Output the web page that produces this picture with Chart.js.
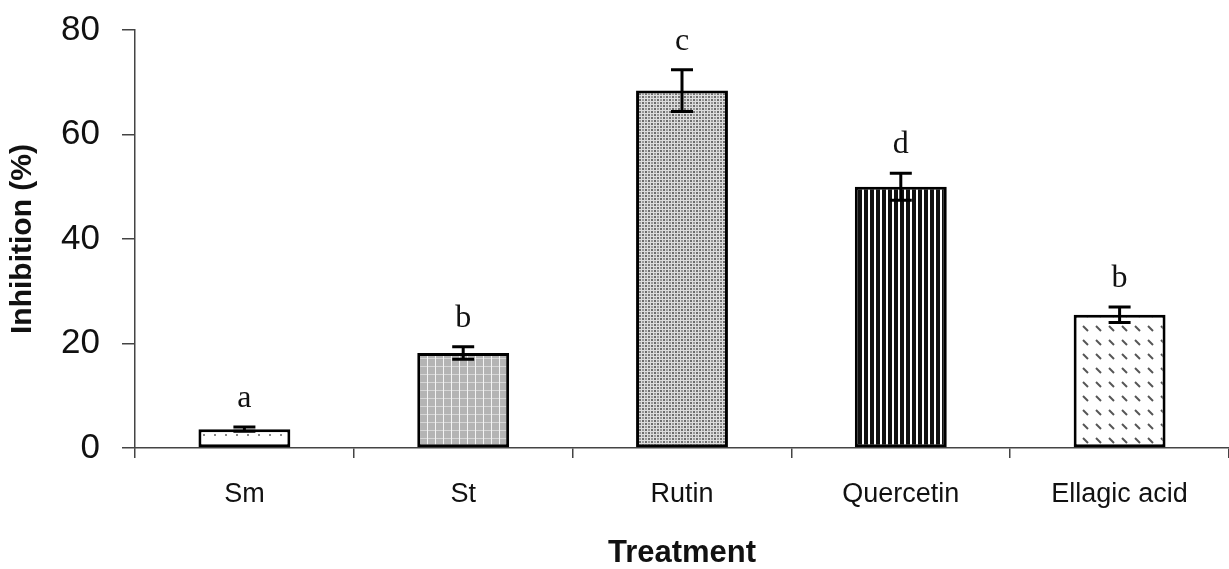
<!DOCTYPE html>
<html>
<head>
<meta charset="utf-8">
<script src="https://cdn.jsdelivr.net/npm/chart.js@4"></script>
<style>
  html, body { margin: 0; padding: 0; background: #fff; }
  #wrap { width: 1229px; height: 569px; }
</style>
</head>
<body>
<div id="wrap"><canvas id="inhibitionChart"></canvas></div>
<script>
const treatments = ['Sm', 'St', 'Rutin', 'Quercetin', 'Ellagic acid'];
const inhibition = [3.6, 18.2, 68.4, 50.0, 25.5];
const stdError = [0.4, 1.2, 4.0, 2.6, 1.5];
const groupLetters = ['a', 'b', 'c', 'd', 'b'];
const yTicks = [0, 20, 40, 60, 80];

// small canvas tiles used as bar fills
function makeTile(w, h, draw) {
  const c = document.createElement('canvas');
  c.width = w; c.height = h;
  const t = c.getContext('2d');
  draw(t, w, h);
  return document.createElement('canvas').getContext('2d').createPattern(c, 'repeat');
}

const fills = [
  makeTile(11, 11, function (t) {         // dots
    t.fillStyle = '#fff'; t.fillRect(0, 0, 11, 11);
    t.fillStyle = '#888'; t.fillRect(5, 5, 2, 2);
  }),
  makeTile(8, 8, function (t) {           // gray grid
    t.fillStyle = '#b4b4b4'; t.fillRect(0, 0, 8, 8);
    t.fillStyle = '#d6d6d6'; t.fillRect(0, 6, 8, 1);
    t.fillStyle = '#f4f4f4'; t.fillRect(3, 0, 1, 8);
  }),
  makeTile(6, 6, function (t) {           // fine mesh
    t.fillStyle = '#dedede'; t.fillRect(0, 0, 6, 6);
    t.fillStyle = '#6e6e6e'; t.fillRect(0, 0, 2, 2); t.fillRect(3, 3, 2, 2);
    t.fillStyle = '#9a9a9a'; t.fillRect(3, 0, 2, 2); t.fillRect(0, 3, 2, 2);
  }),
  makeTile(6, 6, function (t) {           // vertical stripes
    t.fillStyle = '#fff'; t.fillRect(0, 0, 6, 6);
    t.fillStyle = '#111'; t.fillRect(0, 0, 4, 6);
  }),
  makeTile(13, 14, function (t) {         // diagonal dashes
    t.fillStyle = '#fff'; t.fillRect(0, 0, 13, 14);
    t.strokeStyle = '#555'; t.lineWidth = 2;
    t.beginPath(); t.moveTo(4, 4); t.lineTo(9, 9); t.stroke();
  })
];

const errorBars = {
  id: 'errorBars',
  afterDatasetsDraw(chart) {
    const ctx = chart.ctx;
    const y = chart.scales.y;
    const meta = chart.getDatasetMeta(0);
    ctx.save();
    ctx.strokeStyle = '#000';
    ctx.lineWidth = 3;
    meta.data.forEach(function (bar, i) {
      const hi = y.getPixelForValue(inhibition[i] + stdError[i]);
      const lo = y.getPixelForValue(inhibition[i] - stdError[i]);
      ctx.beginPath();
      ctx.moveTo(bar.x, hi); ctx.lineTo(bar.x, lo);
      ctx.moveTo(bar.x - 11, hi); ctx.lineTo(bar.x + 11, hi);
      ctx.moveTo(bar.x - 11, lo); ctx.lineTo(bar.x + 11, lo);
      ctx.stroke();
      ctx.fillStyle = '#111';
      ctx.font = '32px "Liberation Serif", "Times New Roman", serif';
      ctx.textAlign = 'center';
      ctx.textBaseline = 'alphabetic';
      ctx.fillText(groupLetters[i], bar.x, hi - 20);
    });
    ctx.restore();
  }
};

const ctx = document.getElementById('inhibitionChart').getContext('2d');
const inhibitionChart = new Chart(ctx, {
  type: 'bar',
  data: {
    labels: treatments,
    datasets: [{
      data: inhibition,
      backgroundColor: fills,
      borderColor: '#000',
      borderWidth: 3,
      borderSkipped: false,
      categoryPercentage: 1,
      barPercentage: 0.42
    }]
  },
  options: {
    responsive: true,
    maintainAspectRatio: false,
    animation: false,
    layout: { padding: { top: 30, right: 0, bottom: 0, left: 0 } },
    scales: {
      x: {
        afterFit: function (s) { s.height = 121; s.paddingLeft = 0; s.paddingRight = 0; },
        grid: { offset: true, drawOnChartArea: false, tickLength: 10, color: '#444', lineWidth: 1.5 },
        border: { color: '#444', width: 1.5 },
        ticks: { color: '#111', padding: 20, font: { family: 'Arial, "Liberation Sans", sans-serif', size: 27 } },
        title: {
          display: true, text: 'Treatment', color: '#111', padding: 0,
          font: { family: 'Arial, "Liberation Sans", sans-serif', size: 31, weight: 'bold', lineHeight: 1 }
        }
      },
      y: {
        min: 0,
        max: 80,
        afterFit: function (s) { s.width = 135; s.paddingTop = 0; s.paddingBottom = 0; },
        afterBuildTicks: function (s) { s.ticks = yTicks.map(function (v) { return { value: v }; }); },
        grid: { drawOnChartArea: false, tickLength: 13, color: '#444', lineWidth: 1.5 },
        border: { color: '#444', width: 1.5 },
        ticks: { color: '#111', padding: 22, font: { family: 'Arial, "Liberation Sans", sans-serif', size: 35 } },
        title: {
          display: true, text: 'Inhibition (%)', color: '#111', padding: { top: 8, bottom: 0 },
          font: { family: 'Arial, "Liberation Sans", sans-serif', size: 30, weight: 'bold', lineHeight: 1 }
        }
      }
    },
    plugins: {
      legend: { display: false },
      tooltip: { enabled: false }
    }
  },
  plugins: [errorBars]
});
</script>
</body>
</html>
